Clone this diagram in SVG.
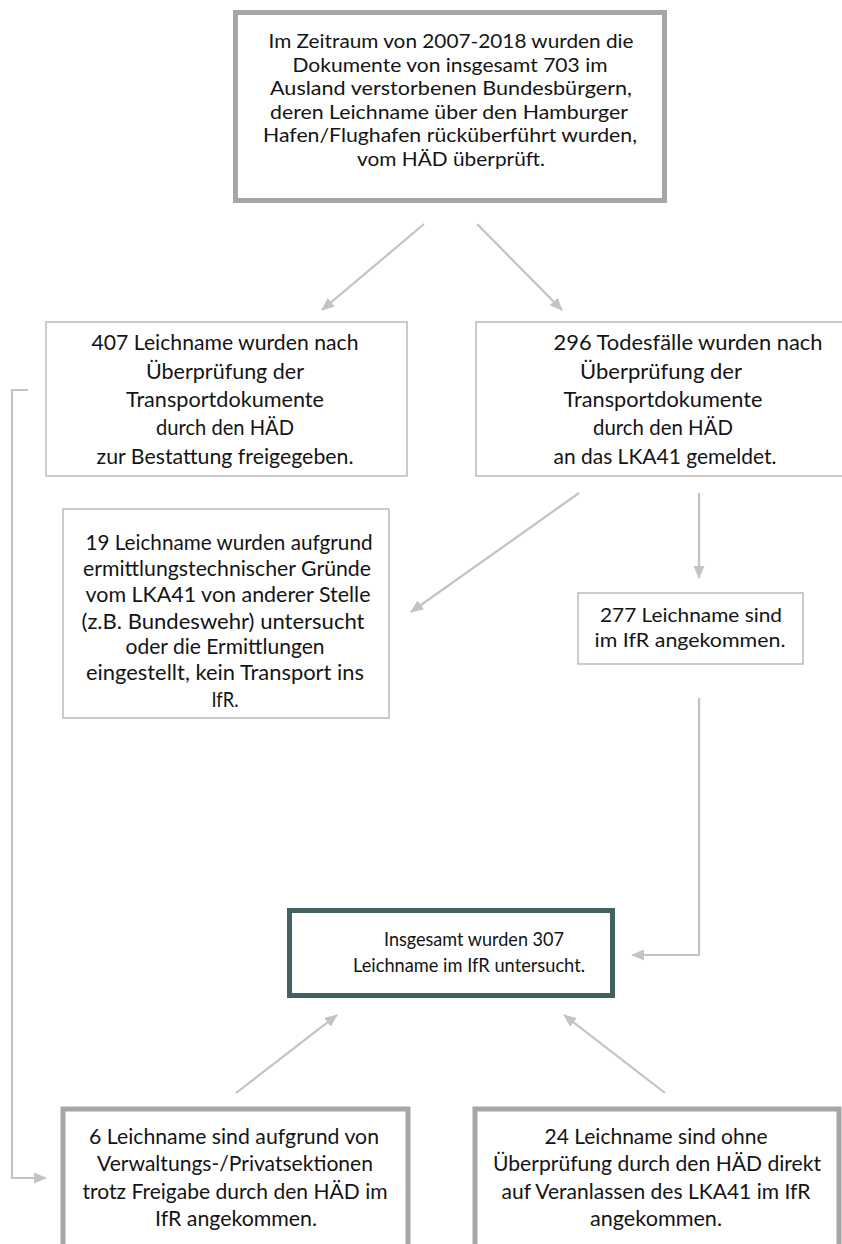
<svg xmlns="http://www.w3.org/2000/svg" width="842" height="1244" viewBox="0 0 842 1244">
<style>
.bg{fill:#ffffff}
.thick{fill:#ffffff;stroke:#a6a6a6;stroke-width:5}
.thin{fill:#ffffff;stroke:#bfbfbf;stroke-width:1.6}
.main{fill:#ffffff;stroke:#43625f;stroke-width:5}
.t{font-family:Lato,"Open Sans","Liberation Sans",sans-serif;fill:#141414;text-anchor:middle}
.t20{font-size:20px}
.t22{font-size:22px}
.t21{font-size:21px}
.c{fill:none;stroke:#c3c3c3;stroke-width:2.2}
</style>
<defs>
<marker id="ah" markerUnits="userSpaceOnUse" markerWidth="14" markerHeight="12" refX="12" refY="5.5" orient="auto">
<path d="M0,0 L13,5.5 L0,11 z" fill="#c3c3c3"/>
</marker>
</defs>
<rect class="bg" x="0" y="0" width="842" height="1244"/>

<g id="connectors">
<line class="c" x1="424" y1="224" x2="322" y2="310" marker-end="url(#ah)"/>
<line class="c" x1="477" y1="224" x2="562" y2="310" marker-end="url(#ah)"/>
<line class="c" x1="579" y1="493" x2="411" y2="612" marker-end="url(#ah)"/>
<line class="c" x1="699" y1="493" x2="699" y2="578" marker-end="url(#ah)"/>
<polyline class="c" points="699,698 699,955 632,955" marker-end="url(#ah)"/>
<line class="c" x1="236" y1="1093" x2="337" y2="1015" marker-end="url(#ah)"/>
<line class="c" x1="665" y1="1093" x2="564" y2="1015" marker-end="url(#ah)"/>
<polyline class="c" points="28,390 12,390 12,1178 46,1178" marker-end="url(#ah)"/>
</g>

<g id="n_top">
<rect class="thick" x="235.5" y="12.5" width="429" height="188"/>
<text class="t t20" x="451" y="48" textLength="365" lengthAdjust="spacingAndGlyphs">Im Zeitraum von 2007-2018 wurden die</text>
<text class="t t20" x="450" y="71.5" textLength="315" lengthAdjust="spacingAndGlyphs">Dokumente von insgesamt 703 im</text>
<text class="t t20" x="451" y="95" textLength="362" lengthAdjust="spacingAndGlyphs">Ausland verstorbenen Bundesbürgern,</text>
<text class="t t20" x="449" y="118.5" textLength="358" lengthAdjust="spacingAndGlyphs">deren Leichname über den Hamburger</text>
<text class="t t20" x="450" y="142" textLength="374" lengthAdjust="spacingAndGlyphs">Hafen/Flughafen rücküberführt wurden,</text>
<text class="t t20" x="451" y="165.5" textLength="188" lengthAdjust="spacingAndGlyphs">vom HÄD überprüft.</text>
</g>

<g id="n_407">
<rect class="thin" x="46" y="322" width="361" height="154"/>
<text class="t t22" x="225" y="350" textLength="267" lengthAdjust="spacingAndGlyphs">407 Leichname wurden nach</text>
<text class="t t22" x="225" y="379" textLength="158" lengthAdjust="spacingAndGlyphs">Überprüfung der</text>
<text class="t t22" x="225" y="407" textLength="198" lengthAdjust="spacingAndGlyphs">Transportdokumente</text>
<text class="t t22" x="225" y="435" textLength="138" lengthAdjust="spacingAndGlyphs">durch den HÄD</text>
<text class="t t22" x="225" y="464" textLength="257" lengthAdjust="spacingAndGlyphs">zur Bestattung freigegeben.</text>
</g>

<g id="n_296">
<rect class="thin" x="476" y="322" width="380" height="154"/>
<text class="t t22" x="688" y="350" textLength="269" lengthAdjust="spacingAndGlyphs">296 Todesfälle wurden nach</text>
<text class="t t22" x="661" y="379" textLength="162" lengthAdjust="spacingAndGlyphs">Überprüfung der</text>
<text class="t t22" x="663" y="407" textLength="199" lengthAdjust="spacingAndGlyphs">Transportdokumente</text>
<text class="t t22" x="663" y="435" textLength="140" lengthAdjust="spacingAndGlyphs">durch den HÄD</text>
<text class="t t22" x="665" y="464" textLength="223" lengthAdjust="spacingAndGlyphs">an das LKA41 gemeldet.</text>
</g>

<g id="n_19">
<rect class="thin" x="63" y="509" width="326" height="209"/>
<text class="t t21" x="229" y="550" textLength="287" lengthAdjust="spacingAndGlyphs">19 Leichname wurden aufgrund</text>
<text class="t t21" x="227" y="576" textLength="288" lengthAdjust="spacingAndGlyphs">ermittlungstechnischer Gründe</text>
<text class="t t21" x="228" y="602" textLength="285" lengthAdjust="spacingAndGlyphs">vom LKA41 von anderer Stelle</text>
<text class="t t21" x="223" y="629" textLength="283" lengthAdjust="spacingAndGlyphs">(z.B. Bundeswehr) untersucht</text>
<text class="t t21" x="225" y="654" textLength="199" lengthAdjust="spacingAndGlyphs">oder die Ermittlungen</text>
<text class="t t21" x="225" y="680" textLength="278" lengthAdjust="spacingAndGlyphs">eingestellt, kein Transport ins</text>
<text class="t t21" x="225" y="707" textLength="27" lengthAdjust="spacingAndGlyphs">IfR.</text>
</g>

<g id="n_277">
<rect class="thin" x="578" y="593" width="225" height="71"/>
<text class="t t20" x="691" y="622" textLength="182" lengthAdjust="spacingAndGlyphs">277 Leichname sind</text>
<text class="t t20" x="690" y="647" textLength="191" lengthAdjust="spacingAndGlyphs">im IfR angekommen.</text>
</g>

<g id="n_307">
<rect class="main" x="289.5" y="910.5" width="323" height="85"/>
<text class="t t20" x="474" y="946" textLength="180" lengthAdjust="spacingAndGlyphs">Insgesamt wurden 307</text>
<text class="t t20" x="469" y="972" textLength="232" lengthAdjust="spacingAndGlyphs">Leichname im IfR untersucht.</text>
</g>

<g id="n_6">
<rect class="thick" x="63" y="1109" width="345" height="160"/>
<text class="t t22" x="234" y="1144" textLength="290" lengthAdjust="spacingAndGlyphs">6 Leichname sind aufgrund von</text>
<text class="t t22" x="235" y="1171" textLength="276" lengthAdjust="spacingAndGlyphs">Verwaltungs-/Privatsektionen</text>
<text class="t t22" x="235" y="1199" textLength="305" lengthAdjust="spacingAndGlyphs">trotz Freigabe durch den HÄD im</text>
<text class="t t22" x="236" y="1226" textLength="162" lengthAdjust="spacingAndGlyphs">IfR angekommen.</text>
</g>

<g id="n_24">
<rect class="thick" x="475" y="1109" width="364" height="160"/>
<text class="t t22" x="656" y="1144" textLength="223" lengthAdjust="spacingAndGlyphs">24 Leichname sind ohne</text>
<text class="t t22" x="657" y="1171" textLength="328" lengthAdjust="spacingAndGlyphs">Überprüfung durch den HÄD direkt</text>
<text class="t t22" x="656" y="1199" textLength="309" lengthAdjust="spacingAndGlyphs">auf Veranlassen des LKA41 im IfR</text>
<text class="t t22" x="656" y="1226" textLength="132" lengthAdjust="spacingAndGlyphs">angekommen.</text>
</g>
</svg>
